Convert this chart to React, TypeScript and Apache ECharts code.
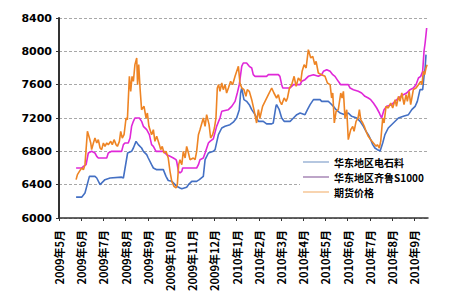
import React, { useEffect, useRef } from "react";
import * as echarts from "echarts";

// x = months since 2009-05-01 (fractional), y = price (元/吨)
const monthLabels = [
  "2009年5月", "2009年6月", "2009年7月", "2009年8月", "2009年9月", "2009年10月",
  "2009年11月", "2009年12月", "2010年1月", "2010年2月", "2010年3月", "2010年4月",
  "2010年5月", "2010年6月", "2010年7月", "2010年8月", "2010年9月",
];

const seriesNames = ["华东地区电石料", "华东地区齐鲁S1000", "期货价格"];

const carbideData: [number, number][] = [
  [0.77,6250],[1.02,6250],[1.17,6300],[1.37,6500],[1.62,6500],[1.70,6480],[1.85,6400],[2.07,6460],[2.30,6480],[2.82,6490],[2.90,6480],[3.09,6780],[3.27,6800],[3.35,6840],[3.47,6920],[3.57,6880],[3.72,6840],[3.80,6800],[3.95,6760],[4.02,6720],[4.17,6640],[4.25,6600],[4.40,6580],[4.70,6580],[4.73,6560],[4.82,6500],[4.92,6450],[5.08,6440],[5.23,6400],[5.30,6380],[5.45,6360],[5.53,6350],[5.75,6370],[5.83,6400],[5.98,6440],[6.20,6440],[6.32,6460],[6.50,6500],[6.58,6700],[6.73,6780],[6.95,6800],[7.03,6820],[7.18,7000],[7.33,7080],[7.48,7100],[7.70,7120],[7.85,7150],[8.00,7200],[8.12,7300],[8.18,7500],[8.23,7560],[8.33,7420],[8.45,7400],[8.57,7360],[8.68,7300],[8.83,7240],[8.98,7160],[9.20,7160],[9.35,7130],[9.58,7130],[9.65,7140],[9.77,7340],[9.80,7360],[9.92,7300],[10.03,7200],[10.14,7160],[10.41,7160],[10.56,7200],[10.71,7240],[10.86,7260],[11.08,7240],[11.19,7300],[11.31,7360],[11.46,7420],[11.76,7420],[11.83,7400],[12.13,7400],[12.21,7380],[12.36,7340],[12.48,7300],[12.66,7260],[12.88,7240],[13.03,7260],[13.18,7220],[13.41,7200],[13.56,7160],[13.71,7100],[13.83,7040],[13.93,7000],[14.04,6940],[14.13,6880],[14.23,6840],[14.34,6820],[14.43,6810],[14.46,6800],[14.58,6900],[14.68,7000],[14.83,7080],[15.06,7140],[15.29,7200],[15.51,7220],[15.74,7240],[15.89,7300],[16.04,7340],[16.14,7400],[16.26,7540],[16.38,7540],[16.44,7700],[16.49,7800],[16.53,7960],
];

const qiluData: [number, number][] = [
  [0.77,6600],[1.02,6600],[1.10,6620],[1.22,6640],[1.32,6780],[1.47,6800],[1.62,6780],[1.70,6740],[1.77,6720],[2.15,6720],[2.22,6780],[2.37,6800],[2.82,6800],[2.90,6880],[2.97,6900],[3.12,6900],[3.20,6960],[3.27,7100],[3.35,7160],[3.42,7200],[3.62,7200],[3.72,7160],[3.80,7100],[3.95,7060],[4.07,7000],[4.17,6880],[4.25,6860],[4.37,6800],[4.73,6800],[4.77,6780],[4.85,6760],[5.00,6740],[5.15,6720],[5.27,6700],[5.30,6680],[5.38,6560],[5.45,6540],[5.53,6560],[5.57,6600],[6.20,6600],[6.28,6640],[6.35,6700],[6.50,6720],[6.58,6780],[6.73,6900],[6.80,6920],[6.95,6950],[7.10,7100],[7.25,7200],[7.33,7280],[7.63,7300],[7.78,7340],[7.93,7400],[8.03,7500],[8.12,7600],[8.23,7820],[8.30,7860],[8.45,7860],[8.57,7820],[8.68,7800],[8.75,7720],[8.83,7700],[9.35,7700],[9.43,7720],[9.88,7720],[9.95,7700],[10.03,7600],[10.08,7560],[10.41,7560],[10.56,7600],[10.86,7600],[10.93,7640],[11.08,7660],[11.23,7700],[11.46,7720],[11.68,7700],[11.83,7720],[11.91,7760],[12.06,7780],[12.21,7760],[12.33,7720],[12.43,7700],[12.58,7640],[12.69,7600],[13.03,7600],[13.11,7560],[13.26,7540],[13.48,7520],[13.63,7500],[13.78,7460],[13.93,7440],[14.04,7420],[14.16,7380],[14.31,7320],[14.43,7260],[14.46,7240],[14.53,7200],[14.64,7300],[14.76,7340],[14.98,7360],[15.14,7400],[15.29,7440],[15.51,7480],[15.66,7500],[15.81,7540],[15.96,7560],[16.08,7600],[16.19,7680],[16.29,7700],[16.38,7760],[16.44,8000],[16.49,8100],[16.53,8200],[16.56,8280],
];

const futuresData: [number, number][] = [
  [0.77,6460],[0.83,6520],[0.92,6560],[1.02,6600],[1.10,6580],[1.17,6640],[1.28,7040],[1.37,6960],[1.43,6900],[1.47,6820],[1.55,6900],[1.62,6960],[1.70,6900],[1.77,6940],[1.85,6840],[1.92,6820],[2.00,6900],[2.07,6860],[2.15,6900],[2.22,6880],[2.33,6920],[2.40,6880],[2.48,6940],[2.57,6880],[2.63,6860],[2.72,6920],[2.78,7040],[2.85,6960],[2.93,7000],[3.02,7200],[3.08,7180],[3.17,7700],[3.23,7520],[3.29,7700],[3.35,7640],[3.42,7840],[3.50,7920],[3.54,7600],[3.59,7840],[3.65,7560],[3.72,7300],[3.83,7340],[3.92,7200],[3.98,7260],[4.05,7100],[4.17,7000],[4.25,7060],[4.32,6920],[4.40,6980],[4.52,6880],[4.58,6820],[4.65,6860],[4.73,6780],[4.82,6800],[4.92,6720],[5.00,6560],[5.08,6440],[5.18,6380],[5.27,6360],[5.33,6400],[5.39,6640],[5.45,6700],[5.53,6640],[5.60,6800],[5.68,6720],[5.75,6860],[5.83,6780],[5.90,6700],[6.05,6720],[6.13,6700],[6.20,6800],[6.28,7000],[6.35,7060],[6.50,7200],[6.58,7100],[6.65,7240],[6.76,7120],[6.83,6960],[6.92,7000],[7.00,7080],[7.07,7200],[7.13,7560],[7.19,7600],[7.25,7520],[7.33,7620],[7.40,7540],[7.48,7600],[7.55,7500],[7.63,7560],[7.73,7640],[7.82,7600],[7.93,7700],[8.08,7820],[8.15,7620],[8.23,7560],[8.33,7540],[8.42,7460],[8.48,7540],[8.57,7520],[8.68,7420],[8.78,7300],[8.90,7140],[8.98,7300],[9.05,7200],[9.17,7340],[9.28,7400],[9.43,7480],[9.58,7560],[9.68,7500],[9.80,7440],[9.88,7480],[9.95,7400],[10.03,7360],[10.14,7440],[10.23,7400],[10.29,7440],[10.38,7560],[10.48,7600],[10.59,7700],[10.68,7580],[10.78,7680],[10.89,7640],[10.95,7760],[11.04,7840],[11.13,7800],[11.23,8020],[11.34,7920],[11.43,7940],[11.52,7840],[11.58,7880],[11.68,7740],[11.83,7720],[11.98,7700],[12.09,7620],[12.21,7600],[12.28,7440],[12.33,7500],[12.40,7140],[12.48,7280],[12.58,7300],[12.69,7500],[12.75,7440],[12.81,7520],[12.88,7200],[12.96,7300],[13.03,6940],[13.14,7060],[13.23,7100],[13.29,7040],[13.38,7160],[13.47,7200],[13.53,7300],[13.59,7180],[13.68,7140],[13.75,7100],[13.83,7040],[13.93,6980],[14.04,6940],[14.16,6900],[14.28,6860],[14.34,6880],[14.43,6840],[14.49,6920],[14.58,7200],[14.64,7140],[14.73,7340],[14.83,7320],[14.94,7380],[15.03,7320],[15.14,7420],[15.20,7340],[15.29,7460],[15.36,7400],[15.44,7500],[15.54,7360],[15.63,7480],[15.69,7400],[15.77,7520],[15.84,7360],[15.96,7540],[16.08,7560],[16.19,7600],[16.29,7640],[16.35,7600],[16.41,7760],[16.47,7720],[16.53,7800],[16.58,7840],
];

const lineColors = ["#4470c4", "#e028d8", "#ee8424"];
const legendColors = ["#6a8fc0", "#7a4a90", "#f0a860"];

export default function App() {
  const ref = useRef<HTMLDivElement>(null);
  useEffect(() => {
    if (!ref.current) return;
    const chart = echarts.init(ref.current, null, { renderer: "svg" });
    const datasets = [carbideData, qiluData, futuresData];
    chart.setOption({
      animation: false,
      backgroundColor: "#ffffff",
      grid: { left: 59, right: 22, top: 18, bottom: 82 },
      legend: {
        orient: "vertical",
        left: 300,
        top: 154,
        itemWidth: 26,
        itemHeight: 10,
        itemGap: 5,
        padding: [3, 6, 3, 3],
        backgroundColor: "#ffffff",
        textStyle: {
          fontSize: 10,
          color: "#000",
          fontWeight: "bold",
          fontFamily: "Noto Sans CJK SC",
        },
        data: seriesNames.map((n, i) => ({
          name: n,
          icon: "path://M0,0 L26,0 L26,1 L0,1 Z",
          itemStyle: { color: legendColors[i] },
        })),
      },
      xAxis: {
        type: "value",
        min: 0,
        max: 16.62,
        interval: 1,
        splitLine: { show: false },
        axisLine: { show: true, lineStyle: { color: "#333", width: 1.5 } },
        axisTick: { show: true, length: 3, lineStyle: { color: "#333" } },
        axisLabel: {
          rotate: 90,
          margin: 12,
          fontSize: 11,
          fontWeight: "bold",
          color: "#000",
          fontFamily: "Noto Sans CJK SC",
          showMaxLabel: false,
          formatter: (v: number) => {
            const i = Math.round(v);
            return Math.abs(v - i) < 1e-6 && monthLabels[i] ? monthLabels[i] : "";
          },
        },
      },
      yAxis: {
        type: "value",
        min: 6000,
        max: 8400,
        interval: 400,
        axisLine: { show: true, lineStyle: { color: "#333", width: 2 } },
        axisTick: { show: true, length: 3, lineStyle: { color: "#333" } },
        axisLabel: {
          margin: 7,
          fontSize: 11,
          fontWeight: "bold",
          color: "#000",
          fontFamily: "DejaVu Sans",
          formatter: (v: number) => String(v),
        },
        splitLine: { show: true, lineStyle: { color: "#a8a8a8", type: [3, 2], width: 1 } },
      },
      series: seriesNames.map((n, i) => ({
        name: n,
        type: "line",
        data: datasets[i],
        symbol: "none",
        lineStyle: { color: lineColors[i], width: 1.6 },
        itemStyle: { color: lineColors[i] },
        z: i === 2 ? 3 : 2,
      })),
    });
    return () => chart.dispose();
  }, []);
  return <div ref={ref} style={{ width: 450, height: 300, position: "absolute", left: 0, top: 0 }} />;
}
